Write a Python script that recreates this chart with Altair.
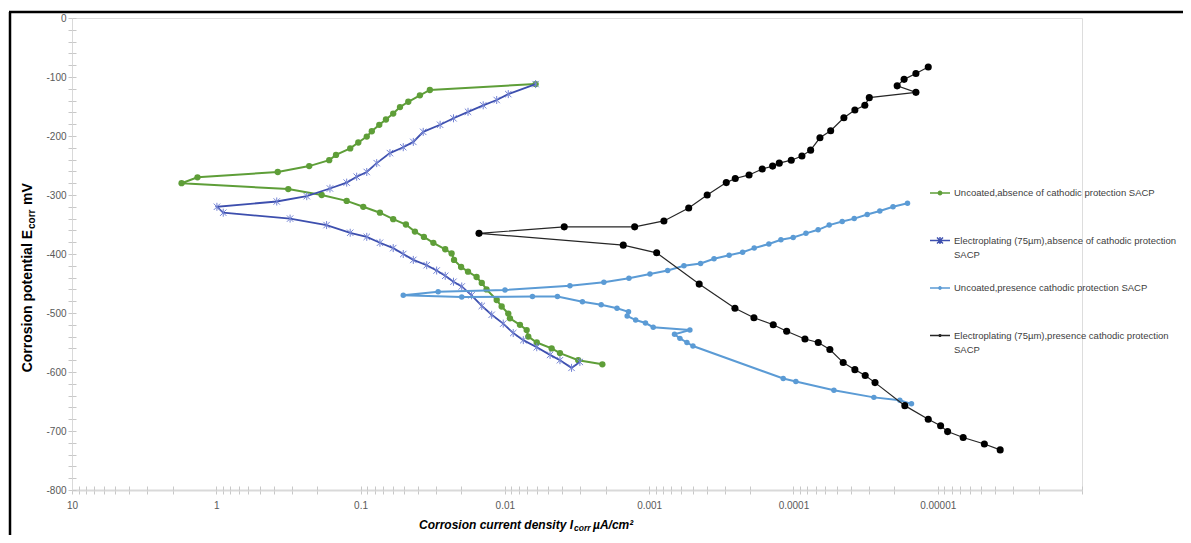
import altair as alt
import pandas as pd

series_names = [
    "Uncoated,absence of cathodic protection SACP",
    "Electroplating  (75µm),absence of cathodic protection SACP",
    "Uncoated,presence cathodic protection SACP",
    "Electroplating  (75µm),presence cathodic protection SACP",
]
line_colors = ["#5E9E38", "#3D4FAE", "#5B9BD5", "#262626"]
marker_colors = ["#5E9E38", "#7383D4", "#5B9BD5", "#000000"]

# Uncoated, absence of cathodic protection (path: top-right -> leftmost -> bottom-right)
green_x = [0.00612, 0.0331, 0.0388, 0.0467, 0.0533, 0.0594, 0.0667, 0.0742, 0.0836, 0.0906,
           0.1037, 0.118, 0.148, 0.165, 0.227, 0.375, 1.35, 1.74,
           0.317, 0.186, 0.1248, 0.0958, 0.0734, 0.0594, 0.0485, 0.0420, 0.0364, 0.0313,
           0.0259, 0.0234, 0.0225, 0.0201, 0.0180, 0.0157, 0.01445, 0.0134, 0.01139, 0.01052,
           0.00947, 0.00922, 0.00786, 0.00706, 0.00688, 0.00601, 0.00474, 0.00415, 0.00310, 0.00211]
green_y = [-112, -122, -131, -142, -151, -162, -172, -181, -192, -201,
           -211, -221, -232, -241, -251, -261, -270, -280,
           -290, -300, -310, -320, -330, -341, -350, -362, -371, -381,
           -392, -399, -410, -422, -430, -439, -449, -460, -478, -489,
           -501, -509, -520, -529, -540, -550, -560, -568, -580, -587]

# Electroplating (75um), absence of cathodic protection
blue_x = [0.00612, 0.00947, 0.01139, 0.01413, 0.0180, 0.0227, 0.0281, 0.0368, 0.0431, 0.0506,
          0.0626, 0.0773, 0.0906, 0.1064, 0.1248, 0.163, 0.236, 0.381, 0.99,
          0.895, 0.308, 0.172, 0.118, 0.0906, 0.0734, 0.0594, 0.0506, 0.0431, 0.0348,
          0.0297, 0.0259, 0.0227, 0.0199, 0.0170, 0.01445, 0.01234, 0.01026, 0.00875, 0.00745,
          0.00601, 0.00486, 0.00415, 0.00345, 0.00302]
blue_y = [-112, -129, -139, -148, -159, -170, -181, -193, -210, -219,
          -229, -246, -261, -269, -279, -289, -302, -311, -320,
          -330, -340, -351, -364, -371, -381, -390, -400, -410, -419,
          -428, -437, -447, -455, -470, -488, -503, -518, -534, -546,
          -558, -571, -580, -593, -583]

# Uncoated, presence of cathodic protection
lblue_x = [0.0000162, 0.0000204, 0.0000252, 0.0000308, 0.0000379, 0.0000459, 0.0000565, 0.0000674,
           0.0000819, 0.0001004, 0.0001221, 0.000148, 0.000187, 0.000225, 0.000279, 0.000355,
           0.000440, 0.000574, 0.000744, 0.000987, 0.00138, 0.00206, 0.00354, 0.00998, 0.0290,
           0.0506,
           0.0199, 0.00644, 0.00432, 0.00290, 0.00215, 0.00167, 0.00139, 0.00142, 0.00124, 0.00106,
           0.000937, 0.000522, 0.000667, 0.000612, 0.000547, 0.000497, 0.0001177, 0.0000962,
           0.0000524, 0.0000277, 0.0000183, 0.0000152]
lblue_y = [-314, -320, -327, -333, -340, -345, -351, -359,
           -365, -372, -376, -383, -390, -397, -402, -408,
           -416, -420, -428, -434, -441, -448, -454, -461, -464,
           -470,
           -473, -472, -472, -481, -486, -492, -498, -505, -512, -517,
           -524, -529, -536, -543, -550, -556, -611, -616,
           -631, -643, -648, -654]

# Electroplating (75um), presence of cathodic protection
black_x = [0.00001163, 0.00001416, 0.0000171, 0.0000191, 0.00001416, 0.0000298, 0.0000320, 0.0000375,
           0.0000447, 0.0000552, 0.0000655, 0.0000760, 0.0000873, 0.0001035, 0.0001254, 0.0001394,
           0.0001645, 0.000203, 0.000253, 0.000292, 0.000396, 0.000532, 0.000790, 0.001260, 0.003877,
           0.01511,
           0.001511, 0.000887, 0.000450, 0.0002543, 0.0001878, 0.000138, 0.0001114, 0.0000832,
           0.0000673, 0.0000559, 0.0000452, 0.0000375, 0.0000318, 0.0000272, 0.0000169, 0.00001163,
           0.00000955, 0.00000854, 0.00000666, 0.00000475, 0.00000369]
black_y = [-83, -94, -104, -115, -126, -135, -148, -156,
           -169, -191, -203, -224, -234, -241, -246, -251,
           -256, -266, -272, -279, -300, -322, -344, -354, -354,
           -365,
           -385, -398, -451, -492, -508, -520, -531, -544,
           -550, -562, -584, -596, -606, -618, -657, -680,
           -691, -701, -711, -722, -732]

x_major = [10, 1, 0.1, 0.01, 0.001, 0.0001, 0.00001, 0.000001]
x_major_labels = ["10", "1", "0.1", "0.01", "0.001", "0.0001", "0.00001", ""]
y_ticks = list(range(-800, 1, 20))

# axis title pieces (main text, subscript, unit)
x_title_parts = ["Corrosion current density I", "corr", "µA/cm²"]
y_title_parts = ["Corrosion potential E", "corr", "mV"]

x_ticks = [10] + [m * k for m in x_major[1:] for k in range(1, 10)]
label_expr = "''"
for v, lab in reversed(list(zip(x_major, x_major_labels))):
    label_expr = f"datum.value == {v!r} ? '{lab}' : ({label_expr})"

W, H = 1010, 472
FONT = "Liberation Sans Narrow, Liberation Sans, Arial, sans-serif"
TFONT = "Liberation Sans"
AXIS_GRAY = "#C8C8C8"

x_scale = alt.Scale(type="log", domain=[1e-6, 10], reverse=True, nice=False)
y_scale = alt.Scale(domain=[-800, 0], nice=False, zero=False)

x_enc = alt.X("x:Q", scale=x_scale, axis=alt.Axis(
    values=x_ticks, labelExpr=label_expr, grid=False, tickSize=4, tickColor=AXIS_GRAY,
    domainColor="#D9D9D9", domainWidth=2, labelFont=FONT, labelFontSize=10,
    labelColor="#595959", labelPadding=6, labelFlush=False, labelOverlap=False, title=None))
y_enc = alt.Y("y:Q", scale=y_scale, axis=alt.Axis(
    values=y_ticks, labelExpr="datum.value % 100 == 0 ? toString(datum.value) : ''",
    grid=False, tickSize=4, tickColor=AXIS_GRAY, domainColor="#D9D9D9", domainWidth=1,
    labelFont=FONT, labelFontSize=10, labelColor="#595959", labelPadding=2,
    labelOverlap=False, labelFlush=False, title=None))

star_path = "M0,-1L0,1M-0.8,-0.8L0.8,0.8M-0.8,0.8L0.8,-0.8"
specs = [
    (green_x, green_y, 2.0, dict(shape="circle", size=40, filled=True, color=marker_colors[0])),
    (blue_x, blue_y, 1.8, dict(shape=star_path, size=64, filled=False, color=marker_colors[1], strokeWidth=1)),
    (lblue_x, lblue_y, 2.0, dict(shape="circle", size=30, filled=True, color=marker_colors[2])),
    (black_x, black_y, 1.2, dict(shape="circle", size=50, filled=True, color=marker_colors[3])),
]

data_layers = []
for i, (xs, ys, lw, mk) in enumerate(specs):
    df = pd.DataFrame({"x": xs, "y": ys, "idx": list(range(len(xs))), "series": series_names[i]})
    base = alt.Chart(df)
    data_layers.append(base.mark_line(color=line_colors[i], strokeWidth=lw).encode(
        x=x_enc, y=y_enc, order="idx:Q"))
    data_layers.append(base.mark_point(opacity=1, **mk).encode(x=x_enc, y=y_enc))

# legend (Excel-style: line segment with marker)
legend_paths = [
    "M-1,0L1,0M-0.17,0A0.17,0.17,0,1,1,0.17,0A0.17,0.17,0,1,1,-0.17,0Z",
    "M-1,0L1,0M0,-0.36L0,0.36M-0.3,-0.3L0.3,0.3M-0.3,0.3L0.3,-0.3",
    "M-1,0L1,0M-0.12,0A0.12,0.12,0,1,1,0.12,0A0.12,0.12,0,1,1,-0.12,0Z",
    "M-1,0L1,0M-0.09,0A0.09,0.09,0,1,1,0.09,0A0.09,0.09,0,1,1,-0.09,0Z",
]
legend_df = pd.DataFrame({"series_l": series_names, "x": [1.0] * 4, "y": [0] * 4})
leg = alt.Legend(
    title=None, orient="none", legendX=857, legendY=164, symbolSize=400,
    symbolStrokeWidth=1.4, symbolOpacity=1, labelFont=FONT, labelFontSize=9.5,
    labelColor="#404040", labelLimit=400, labelOffset=3, rowPadding=17.5,
    labelExpr="indexof(datum.label, 'Electroplating') == 0 ? "
              "[slice(datum.label, 0, length(datum.label) - 5), 'SACP'] : [datum.label, '']")
legend_layer = alt.Chart(legend_df).mark_point(opacity=0, filled=True).encode(
    x=x_enc, y=y_enc,
    fill=alt.Fill("series_l:N", scale=alt.Scale(domain=series_names, range=line_colors), legend=leg),
    stroke=alt.Stroke("series_l:N", scale=alt.Scale(domain=series_names, range=line_colors), legend=leg),
    shape=alt.Shape("series_l:N", scale=alt.Scale(domain=series_names, range=legend_paths), legend=leg),
)

inner = alt.layer(*data_layers, legend_layer)

# mirrored ticks so that tick marks cross the axis lines
tick_layer = alt.Chart(pd.DataFrame({"x": [1.0], "y": [-400]})).mark_point(opacity=0).encode(
    x=alt.X("x:Q", scale=x_scale, axis=alt.Axis(
        orient="top", offset=-H, values=x_ticks, labels=False, domain=False, grid=False,
        tickSize=4, tickColor=AXIS_GRAY, title=None)),
    y=alt.Y("y:Q", scale=y_scale, axis=alt.Axis(
        orient="right", offset=-W, values=y_ticks, labels=False, domain=False, grid=False,
        tickSize=4, tickColor=AXIS_GRAY, title=None)),
)

one = pd.DataFrame({"a": [0]})
# axis titles with subscripts
XT_Y = H + 35
xt_main = alt.Chart(one).mark_text(
    text=x_title_parts[0], font=TFONT, fontSize=12, fontWeight="bold", fontStyle="italic",
    align="right", baseline="middle", color="#000000").encode(x=alt.value(501), y=alt.value(XT_Y))
xt_sub = alt.Chart(one).mark_text(
    text=x_title_parts[1], font=TFONT, fontSize=8.5, fontWeight="bold", fontStyle="italic",
    align="left", baseline="middle", color="#000000").encode(x=alt.value(502), y=alt.value(XT_Y + 3))
xt_unit = alt.Chart(one).mark_text(
    text=x_title_parts[2], font=TFONT, fontSize=12, fontWeight="bold", fontStyle="italic",
    align="left", baseline="middle", color="#000000").encode(x=alt.value(521), y=alt.value(XT_Y))
yt_main = alt.Chart(one).mark_text(
    text=y_title_parts[0], font=TFONT, fontSize=14, fontWeight="bold", angle=270,
    align="right", baseline="middle", color="#000000").encode(x=alt.value(-44), y=alt.value(212))
yt_sub = alt.Chart(one).mark_text(
    text=y_title_parts[1], font=TFONT, fontSize=10, fontWeight="bold", angle=270,
    align="left", baseline="middle", color="#000000").encode(x=alt.value(-40), y=alt.value(211))
yt_unit = alt.Chart(one).mark_text(
    text=y_title_parts[2], font=TFONT, fontSize=14, fontWeight="bold", angle=270,
    align="left", baseline="middle", color="#000000").encode(x=alt.value(-44), y=alt.value(187))

border_left = alt.Chart(one).mark_rule(color="#000000", strokeWidth=2.5).encode(
    x=alt.value(-62), y=alt.value(-6), y2=alt.value(H + 60))
border_top = alt.Chart(one).mark_rule(color="#000000", strokeWidth=2.5).encode(
    x=alt.value(-63), x2=alt.value(W + 120), y=alt.value(-6))

chart = alt.layer(
    inner, tick_layer, xt_main, xt_sub, xt_unit, yt_main, yt_sub, yt_unit, border_left, border_top
).resolve_axis(
    x="independent", y="independent"
).properties(
    width=W, height=H,
    autosize=alt.AutoSizeParams(type="none"),
    padding={"left": 64, "top": 10, "right": 101, "bottom": 45},
).configure_view(stroke=None).configure(
    background="#FFFFFF", style={"guide-label": {"lineHeight": 14.5}})

chart.save("out.html", embed_options={"renderer": "svg", "actions": False})
